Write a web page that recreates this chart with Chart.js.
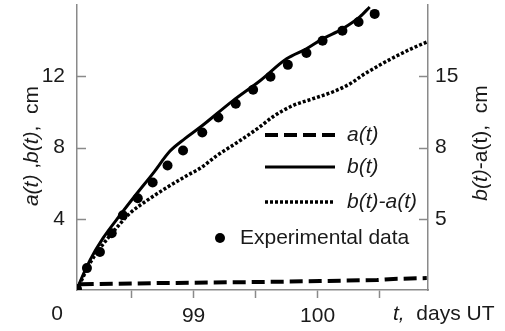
<!DOCTYPE html>
<html>
<head>
<meta charset="utf-8">
<script src="https://cdn.jsdelivr.net/npm/chart.js@4"></script>
<style>
  html, body { margin: 0; padding: 0; background: #fff; }
  #wrap { width: 505px; height: 331px; }
</style>
</head>
<body>
<div id="wrap"><canvas id="chart" width="505" height="331"></canvas></div>
<script>
/* ---------- data ---------- */
const tExp    = [98.06, 98.14, 98.245, 98.34, 98.43, 98.55, 98.67, 98.79, 98.915, 99.07, 99.20, 99.34, 99.48, 99.62, 99.76, 99.91, 100.04, 100.20, 100.33, 100.46];
const expVals = [0.05, 1.23, 2.13, 3.19, 4.20, 5.15, 6.04, 6.99, 7.83, 8.84, 9.68, 10.46, 11.24, 11.97, 12.64, 13.31, 13.99, 14.55, 15.05, 15.5];

const tB    = [98.06, 98.084, 98.165, 98.27, 98.407, 98.544, 98.673, 98.81, 98.93, 99.05, 99.318, 99.536, 99.75, 99.91, 100.04, 100.20, 100.34, 100.42];
const bVals = [0.0, 0.45, 1.68, 2.91, 4.2, 5.43, 6.55, 7.8, 8.5, 9.12, 10.63, 11.75, 12.98, 13.54, 14.1, 14.66, 15.33, 15.89];

const tDiff    = [98.06, 98.165, 98.27, 98.383, 98.487, 98.625, 98.786, 98.947, 99.052, 99.189, 99.375, 99.536, 99.64, 99.80, 99.963, 100.125, 100.262, 100.367, 100.504, 100.64, 100.77, 100.883];
const diffVals = [0.0, 1.51, 2.57, 3.52, 4.31, 5.03, 5.76, 6.43, 6.83, 7.55, 8.39, 9.17, 9.73, 10.35, 10.74, 11.13, 11.58, 12.08, 12.64, 13.15, 13.59, 13.93];

const tA    = [98.09, 98.73, 99.536, 100.02, 100.48, 100.61, 100.88];
const aVals = [0.32, 0.39, 0.45, 0.5, 0.56, 0.62, 0.67];

const xTicks      = [98.5, 99, 99.5, 100, 100.5];
const xLabels     = ['', '99', '', '100', ''];
const yTicks      = [4, 8, 12];
const leftLabels  = ['4', '8', '12'];
const rightLabels = ['5', '8', '15'];

/* ---------- styles ---------- */
const FONT = "'Liberation Sans', Arial, sans-serif";
const TXT  = '#1a1a1a';
const AXIS = '#8a8a8a';

function pts(xs, ys) { return xs.map((x, i) => ({ x: x, y: ys[i] })); }

// draw a string made of normal / italic pieces
function richText(ctx, segs, x, y, align) {
    let total = 0;
    segs.forEach(s => { ctx.font = (s.i ? 'italic ' : '') + '21px ' + FONT; s.w = ctx.measureText(s.t).width; total += s.w; });
    let cx = align === 'center' ? x - total / 2 : x;
    ctx.textAlign = 'left';
    ctx.textBaseline = 'middle';
    segs.forEach(s => {
        ctx.font = (s.i ? 'italic ' : '') + '21px ' + FONT;
        ctx.fillText(s.t, cx, y);
        cx += s.w;
    });
}

// fixed box sizes, no label overhang padding
function fixBox(w, h) {
    return s => {
        if (w) s.width = w;
        if (h) s.height = h;
        s.paddingTop = 0; s.paddingBottom = 0; s.paddingLeft = 0; s.paddingRight = 0;
    };
}

const decorPlugin = {
    id: 'decor',
    afterDraw(chart) {
        const ctx = chart.ctx;
        const ca = chart.chartArea;
        const ys = chart.scales.y;
        ctx.save();

        /* inward tick marks on both y axes */
        ctx.strokeStyle = AXIS;
        ctx.lineWidth = 1.5;
        yTicks.forEach(v => {
            const py = Math.round(ys.getPixelForValue(v)) + 0.5;
            ctx.beginPath();
            ctx.moveTo(ca.left, py); ctx.lineTo(ca.left + 9, py);
            ctx.moveTo(ca.right - 9, py); ctx.lineTo(ca.right, py);
            ctx.stroke();
        });

        ctx.fillStyle = TXT;

        /* axis titles */
        ctx.save();
        ctx.translate(32, 146);
        ctx.rotate(-Math.PI / 2);
        richText(ctx, [{ t: 'a(t)', i: true }, { t: ' ,' }, { t: 'b(t)', i: true }, { t: ',  cm' }], 0, 0, 'center');
        ctx.restore();

        ctx.save();
        ctx.translate(481, 143);
        ctx.rotate(-Math.PI / 2);
        richText(ctx, [{ t: 'b(t)', i: true }, { t: '-a(t),  cm' }], 0, 0, 'center');
        ctx.restore();

        richText(ctx, [{ t: 't,', i: true }, { t: '  days UT' }], 393, 314, 'left');
        richText(ctx, [{ t: '0' }], 57, 314, 'center');

        /* legend */
        const ds = chart.data.datasets;
        const rows = [
            { d: ds[1], y: 135, label: [{ t: 'a(t)', i: true }] },
            { d: ds[2], y: 167, label: [{ t: 'b(t)', i: true }] },
            { d: ds[3], y: 202, label: [{ t: 'b(t)-a(t)', i: true }] }
        ];
        rows.forEach(r => {
            ctx.strokeStyle = '#000';
            ctx.lineWidth = r.d.borderWidth;
            ctx.setLineDash(r.d.borderDash || []);
            ctx.beginPath();
            ctx.moveTo(265, r.y); ctx.lineTo(335, r.y);
            ctx.stroke();
            ctx.setLineDash([]);
            richText(ctx, r.label, 347, r.y, 'left');
        });
        ctx.fillStyle = '#000';
        ctx.beginPath();
        ctx.arc(220, 238, 5, 0, Math.PI * 2);
        ctx.fill();
        ctx.fillStyle = TXT;
        richText(ctx, [{ t: 'Experimental data' }], 240, 238, 'left');

        ctx.restore();
    }
};

new Chart(document.getElementById('chart'), {
    type: 'line',
    data: {
        datasets: [
            {
                label: 'Experimental data',
                type: 'scatter',
                data: pts(tExp, expVals),
                showLine: false,
                pointRadius: 5,
                pointBackgroundColor: '#000',
                pointBorderColor: '#000',
                pointBorderWidth: 0,
                order: 0
            },
            {
                label: 'a(t)',
                data: pts(tA, aVals),
                borderColor: '#000',
                borderWidth: 4,
                borderDash: [13, 6],
                pointRadius: 0,
                tension: 0,
                order: 2
            },
            {
                label: 'b(t)',
                data: pts(tB, bVals),
                borderColor: '#000',
                borderWidth: 3,
                pointRadius: 0,
                cubicInterpolationMode: 'monotone',
                order: 1
            },
            {
                label: 'b(t)-a(t)',
                data: pts(tDiff, diffVals),
                yAxisID: 'y1',
                borderColor: '#000',
                borderWidth: 3.5,
                borderDash: [3, 2],
                pointRadius: 0,
                cubicInterpolationMode: 'monotone',
                order: 3
            }
        ]
    },
    options: {
        responsive: false,
        animation: false,
        layout: { padding: { top: 4, left: 0, right: 0, bottom: 0 } },
        plugins: { legend: { display: false }, tooltip: { enabled: false } },
        scales: {
            x: {
                type: 'linear',
                min: 98.06,
                max: 100.89,
                afterFit: fixBox(0, 41),
                afterBuildTicks: s => { s.ticks = xTicks.map(v => ({ value: v })); },
                border: { color: AXIS, width: 1.5 },
                grid: { drawOnChartArea: false, tickLength: 8, tickColor: AXIS, tickWidth: 1.5 },
                ticks: {
                    autoSkip: false,
                    maxRotation: 0,
                    padding: 6,
                    color: TXT,
                    font: { family: FONT, size: 21 },
                    callback: v => xLabels[xTicks.indexOf(v)]
                }
            },
            y: {
                position: 'left',
                min: 0,
                max: 16,
                afterFit: fixBox(77, 0),
                afterBuildTicks: s => { s.ticks = yTicks.map(v => ({ value: v })); },
                border: { color: AXIS, width: 1.5 },
                grid: { drawOnChartArea: false, drawTicks: false },
                ticks: {
                    padding: 12,
                    color: TXT,
                    font: { family: FONT, size: 21 },
                    callback: v => leftLabels[yTicks.indexOf(v)]
                }
            },
            y1: {
                position: 'right',
                min: 0,
                max: 16,
                afterFit: fixBox(77, 0),
                afterBuildTicks: s => { s.ticks = yTicks.map(v => ({ value: v })); },
                border: { color: AXIS, width: 1.5 },
                grid: { drawOnChartArea: false, drawTicks: false },
                ticks: {
                    padding: 7,
                    color: TXT,
                    font: { family: FONT, size: 21 },
                    callback: v => rightLabels[yTicks.indexOf(v)]
                }
            }
        }
    },
    plugins: [decorPlugin]
});
</script>
</body>
</html>
